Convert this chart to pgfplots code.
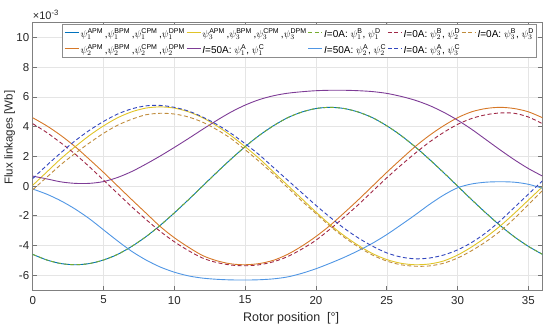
\documentclass[border=0pt]{standalone}
\usepackage{pgfplots}
\pgfplotsset{compat=1.18}
\usepackage{pgfplotstable}
\usepackage{amsmath}
\usepackage{fontspec}
\setmainfont{Liberation Sans}
\definecolor{c1}{rgb}{0,0.447,0.741}
\definecolor{c2}{RGB}{214,120,40}
\definecolor{c3}{RGB}{224,196,40}
\definecolor{c4}{RGB}{126,60,150}
\definecolor{c5}{rgb}{0.466,0.674,0.188}
\definecolor{c6}{RGB}{80,150,228}
\definecolor{c7}{RGB}{160,40,70}
\definecolor{c8}{RGB}{50,70,190}
\definecolor{c9}{RGB}{192,140,60}
\newcommand{\lst}{\rule[-5pt]{0pt}{15.5pt}}
\pgfplotstableread{
x A O Y P L R B D
0 -4.60 4.60 0.05 0.67 -0.20 4.20 0.50 -0.25
1 -4.98 4.05 0.95 0.48 -0.55 3.60 1.40 0.60
2 -5.22 3.40 1.85 0.28 -1.00 2.90 2.25 1.45
3 -5.30 2.65 2.65 0.18 -1.55 2.15 3.05 2.20
4 -5.22 1.80 3.40 0.18 -2.20 1.30 3.75 2.90
5 -4.98 0.92 4.05 0.30 -2.95 0.40 4.35 3.55
6 -4.60 0.00 4.60 0.58 -3.70 -0.50 4.85 4.10
7 -4.06 -0.92 5.00 0.98 -4.40 -1.40 5.20 4.50
8 -3.41 -1.82 5.25 1.48 -4.98 -2.25 5.40 4.80
9 -2.65 -2.72 5.33 2.02 -5.45 -3.05 5.43 4.90
10 -1.81 -3.48 5.25 2.60 -5.80 -3.75 5.30 4.85
11 -0.92 -4.12 5.00 3.20 -6.05 -4.35 5.05 4.65
12 0.00 -4.68 4.60 3.82 -6.20 -4.85 4.65 4.30
13 0.92 -5.03 4.05 4.42 -6.28 -5.15 4.15 3.80
14 1.81 -5.24 3.40 4.98 -6.32 -5.32 3.55 3.20
15 2.65 -5.30 2.65 5.45 -6.33 -5.37 2.85 2.45
16 3.41 -5.22 1.85 5.82 -6.31 -5.30 2.10 1.65
17 4.06 -5.00 0.95 6.08 -6.25 -5.10 1.25 0.80
18 4.60 -4.60 0.05 6.25 -6.12 -4.75 0.40 -0.10
19 4.98 -4.05 -0.85 6.35 -5.88 -4.25 -0.45 -1.00
20 5.22 -3.40 -1.75 6.42 -5.57 -3.65 -1.30 -1.85
21 5.30 -2.65 -2.60 6.45 -5.20 -2.90 -2.10 -2.70
22 5.22 -1.80 -3.35 6.45 -4.80 -2.10 -2.85 -3.45
23 4.98 -0.92 -4.00 6.42 -4.35 -1.25 -3.50 -4.10
24 4.60 0.00 -4.55 6.36 -3.85 -0.35 -4.05 -4.65
25 4.06 0.92 -4.95 6.24 -3.27 0.55 -4.50 -5.05
26 3.41 1.80 -5.20 6.04 -2.62 1.40 -4.78 -5.30
27 2.65 2.65 -5.30 5.78 -1.95 2.20 -4.90 -5.40
28 1.81 3.40 -5.25 5.43 -1.25 2.95 -4.85 -5.38
29 0.92 4.05 -5.05 4.98 -0.62 3.60 -4.65 -5.20
30 0.00 4.60 -4.65 4.44 -0.12 4.15 -4.30 -4.85
31 -0.92 5.00 -4.10 3.82 0.14 4.55 -3.80 -4.35
32 -1.81 5.22 -3.45 3.13 0.26 4.80 -3.15 -3.75
33 -2.65 5.30 -2.70 2.44 0.29 4.92 -2.35 -3.05
34 -3.41 5.22 -1.85 1.78 0.26 4.90 -1.45 -2.20
35 -4.06 5.00 -0.95 1.18 0.12 4.65 -0.55 -1.25
36 -4.60 4.60 -0.05 0.67 -0.15 4.20 0.35 -0.30
}\flux
\begin{document}
\begin{tikzpicture}
\path[use as bounding box] (-32.7pt,-46pt) rectangle (517.3pt,290pt);
\begin{axis}[
  at={(0pt,0pt)}, anchor=south west, scale only axis,
  width=509.8pt, height=267.3pt,
  xmin=0, xmax=36, ymin=-7, ymax=11,
  xtick={0,5,...,35}, ytick={-6,-4,...,10},
  grid=major, major grid style={color=black!10, line width=0.4pt},
  axis line style={black!50, line width=0.5pt},
  tick style={black!55, line width=0.5pt}, tick align=inside,
  major tick length=4pt,
  /pgf/number format/assume math mode=true,
  ticklabel style={font=\fontsize{11.5}{13}\selectfont, text=black!85},
  xticklabel style={yshift=-2.5pt},
  xlabel={Rotor position~~[°]},
  ylabel={Flux linkages [Wb]},
  label style={text=black!85},
  xlabel style={font=\fontsize{12.5}{14}\selectfont, at={(axis description cs:0.507,-0.105)}, anchor=center},
  ylabel style={font=\fontsize{11.5}{13}\selectfont, at={(axis description cs:-0.045,0.57)}, anchor=center},
  legend columns=2, transpose legend,
  legend cell align=left,
  legend style={at={(rel axis cs:0.989,0.995)}, anchor=north east,
    draw=black!45, fill=white, line width=0.5pt,
    font=\fontsize{10}{11}\selectfont, inner xsep=2pt, inner ysep=0.5pt,
    nodes={inner xsep=0.6pt},
    /tikz/every even column/.append style={column sep=0.5pt},
    /tikz/every odd column/.append style={column sep=0.8pt}},
  legend image code/.code={\draw[#1, line width=1pt] (0pt,0pt) -- (14pt,0pt);},
  every axis plot/.append style={line width=0.9pt, smooth, tension=0.5},
  clip=true,
]
\addplot[c1] table[x=x,y=A] {\flux};
\addlegendentry{\lst$\psi_1^{\text{APM}}$\,,$\psi_1^{\text{BPM}}$\,,$\psi_1^{\text{CPM}}$\,,$\psi_1^{\text{DPM}}$}
\addplot[c2] table[x=x,y=O] {\flux};
\addlegendentry{\lst$\psi_2^{\text{APM}}$\,,$\psi_2^{\text{BPM}}$\,,$\psi_2^{\text{CPM}}$\,,$\psi_2^{\text{DPM}}$}
\addplot[c3] table[x=x,y=Y] {\flux};
\addlegendentry{\lst$\psi_3^{\text{APM}}$\,,$\psi_3^{\text{BPM}}$\,,$\psi_3^{\text{CPM}}$\,,$\psi_3^{\text{DPM}}$}
\addplot[c4] table[x=x,y=P] {\flux};
\addlegendentry{\lst\textit{I}=50A: $\psi_1^{\text{A}}$, $\psi_1^{\text{C}}$}
\addplot[c5, dash pattern=on 4pt off 2.5pt] table[x=x,y=A] {\flux};
\addlegendentry{\lst\textit{I}=0A: $\psi_1^{\text{B}}$, $\psi_1^{\text{D}}$}
\addplot[c6] table[x=x,y=L] {\flux};
\addlegendentry{\lst\textit{I}=50A: $\psi_2^{\text{A}}$, $\psi_2^{\text{C}}$}
\addplot[c7, dash pattern=on 4pt off 2.5pt] table[x=x,y=R] {\flux};
\addlegendentry{\lst\textit{I}=0A: $\psi_2^{\text{B}}$, $\psi_2^{\text{D}}$}
\addplot[c8, dash pattern=on 4pt off 2.5pt] table[x=x,y=B] {\flux};
\addlegendentry{\lst\textit{I}=0A: $\psi_3^{\text{A}}$, $\psi_3^{\text{C}}$}
\addplot[c9, dash pattern=on 4pt off 2.5pt] table[x=x,y=D] {\flux};
\addlegendentry{\lst\textit{I}=0A: $\psi_3^{\text{B}}$, $\psi_3^{\text{D}}$}
\end{axis}
\node[anchor=south west, font=\fontsize{11}{13}\selectfont, text=black!85, inner sep=0pt] at (0pt,270pt) {×10\textsuperscript{-3}};
\end{tikzpicture}
\end{document}
